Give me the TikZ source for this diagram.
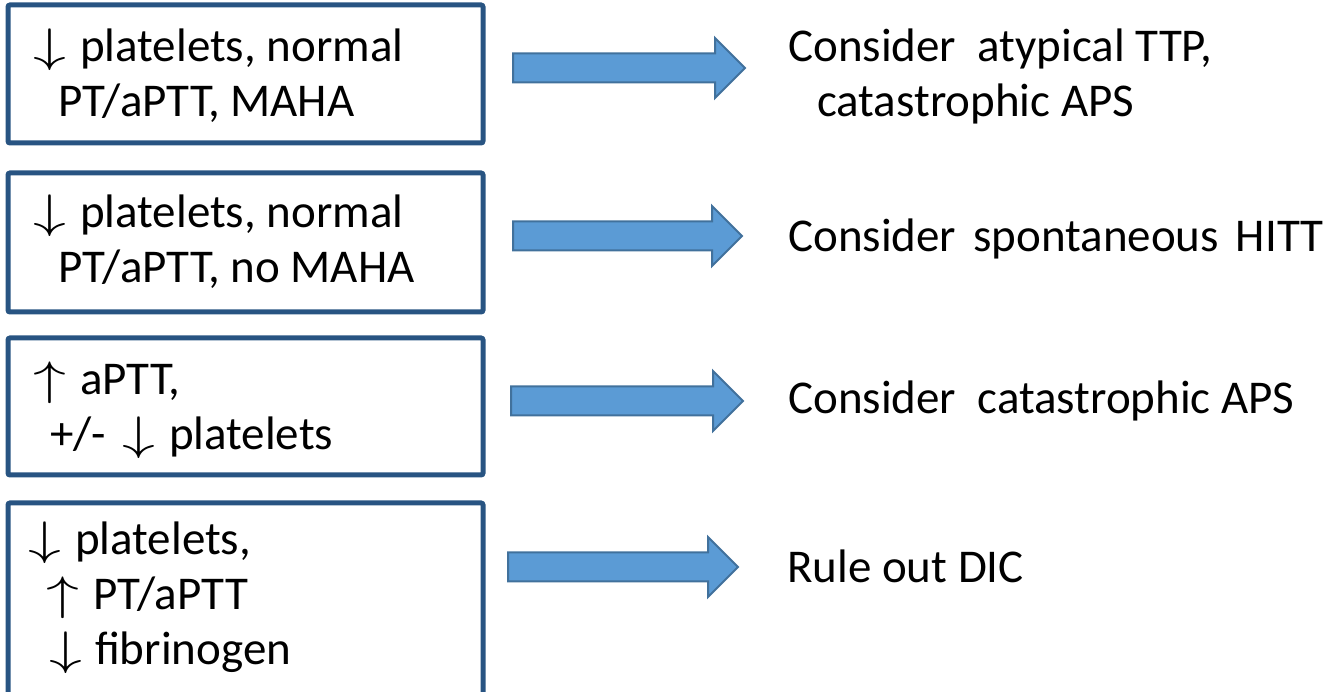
\RequirePackage{fix-cm}
\documentclass[tikz,border=0pt]{standalone}
\usepackage{graphicx}
\usepackage{fontspec}
\setmainfont{Carlito}
\definecolor{boxblue}{RGB}{40,84,130}
\definecolor{arrfill}{RGB}{91,155,213}
\definecolor{arrline}{RGB}{65,113,156}
\newcommand{\dn}{\scalebox{1.4}[1.0]{$\downarrow$}}
\newcommand{\up}{\scalebox{1.4}[1.0]{$\uparrow$}}
\newcommand{\blkarrow}[3]{%
  \draw[blockarr] (#1,#2+14.5) -- (#3-30,#2+14.5) -- (#3-30,#2+30) -- (#3,#2)
    -- (#3-30,#2-30) -- (#3-30,#2-14.5) -- (#1,#2-14.5) -- cycle;}
\begin{document}
\begin{tikzpicture}[x=1pt,y=1pt,
  casebox/.style={draw=boxblue,line width=5pt,rounded corners=2pt,inner sep=0pt,anchor=center},
  blockarr/.style={fill=arrfill,draw=arrline,line width=2pt,line join=miter},
  txt/.style={anchor=base west,inner sep=0pt,align=left,font=\fontsize{47}{55}\selectfont}]
\useasboundingbox (0,0) rectangle (1328,692);
\clip (0,0) rectangle (1328,692);
% boxes
\node[casebox,minimum width=475pt,minimum height=138pt] (b1) at (245.5,618) {};
\node[casebox,minimum width=475pt,minimum height=139pt] (b2) at (245.5,449.5) {};
\node[casebox,minimum width=475pt,minimum height=137pt] (b3) at (245.5,285.5) {};
\node[casebox,minimum width=475pt,minimum height=260pt] (b4) at (245.5,59) {};
% box texts (anchor = baseline of last line)
\node[txt] (t1) at (33,575) {\dn\hspace{14pt}platelets, normal\\\hspace*{25pt}PT/aPTT, MAHA};
\node[txt] (t2) at (33,409) {\dn\hspace{14pt}platelets, normal\\\hspace*{25pt}PT/aPTT, no MAHA};
\node[txt] (t3) at (33,242) {\up\hspace{14pt}aPTT,\\\hspace*{17pt}+/-\hspace{16pt}\dn\hspace{14pt}platelets};
\node[txt] (t4) at (28,27) {\dn\hspace{14pt}platelets,\\\hspace*{18pt}\up\hspace{14pt}PT/aPTT\\\hspace*{21pt}\dn\hspace{13pt}fibrinogen};
% arrows
\blkarrow{513}{624}{745}
\blkarrow{513}{456}{742}
\blkarrow{511}{291}{743}
\blkarrow{508}{125}{738}
% results
\node[txt] (r1) at (788,575) {Consider\ \ atypical TTP,\\\hspace*{29pt}catastrophic APS};
\node[txt] (r2) at (788,440) {Consider\hspace{17pt}spontaneous\hspace{17pt}HITT};
\node[txt] (r3) at (788,278) {Consider\ \ catastrophic APS};
\node[txt] (r4) at (787,109) {Rule out DIC};
\end{tikzpicture}
\end{document}
